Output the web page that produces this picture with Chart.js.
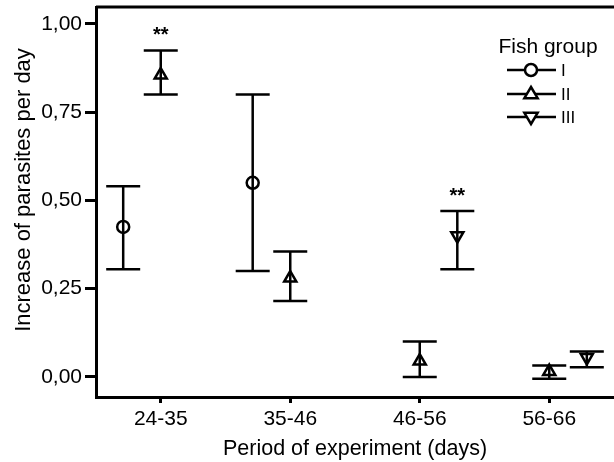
<!DOCTYPE html>
<html>
<head>
<meta charset="utf-8">
<script src="https://cdn.jsdelivr.net/npm/chart.js@4.4.1/dist/chart.umd.min.js"></script>
<style>
  html, body { margin: 0; padding: 0; background: #fff; }
  #wrap { width: 614px; height: 462px; }
</style>
</head>
<body>
<div id="wrap"><canvas id="chart"></canvas></div>
<script>
// Data
const periods = ['24-35', '35-46', '46-56', '56-66'];
const yTicks = [0, 0.25, 0.5, 0.75, 1];

const meanI  = [0.425, 0.55, null, null];
const lowI   = [0.305, 0.30, null, null];
const highI  = [0.54, 0.80, null, null];

const meanII = [0.855, 0.28, 0.045, 0.015];
const lowII  = [0.80, 0.215, 0.0, -0.005];
const highII = [0.925, 0.355, 0.10, 0.032];

const meanIII = [null, null, 0.40, 0.055];
const lowIII  = [null, null, 0.305, 0.027];
const highIII = [null, null, 0.47, 0.072];

const starsII  = ['**', '', '', ''];
const starsIII = ['', '', '**', ''];

const FONT = "'Liberation Sans', Arial, sans-serif";
Chart.defaults.font.family = FONT;
Chart.defaults.color = '#000';

function toPoints(means, lows, highs, stars, offset) {
    const pts = [];
    means.forEach((m, i) => {
        if (m === null) return;
        pts.push({ x: i + 1 + offset, y: m, low: lows[i], high: highs[i], star: stars ? stars[i] : '' });
    });
    return pts;
}

const groups = [
    { label: 'I', data: toPoints(meanI, lowI, highI, null, -0.29), pointStyle: 'circle', rotation: 0, radius: 6 },
    { label: 'II', data: toPoints(meanII, lowII, highII, starsII, 0), pointStyle: 'triangle', rotation: 0, radius: 7 },
    { label: 'III', data: toPoints(meanIII, lowIII, highIII, starsIII, 0.29), pointStyle: 'triangle', rotation: 180, radius: 7 }
];

// small marker for the legend
function marker(ctx, style, rotation, r, x, y) {
    ctx.beginPath();
    if (style === 'circle') {
        ctx.arc(x, y, r, 0, Math.PI * 2);
    } else {
        const s = rotation ? -1 : 1;
        ctx.moveTo(x, y - s * r);
        ctx.lineTo(x + r * 0.95, y + s * r * 0.6);
        ctx.lineTo(x - r * 0.95, y + s * r * 0.6);
        ctx.closePath();
    }
    ctx.fillStyle = '#fff';
    ctx.fill();
    ctx.stroke();
}

// Error bars, stars, top frame, y title and legend
const extrasPlugin = {
    id: 'extras',
    afterDatasetsDraw(chart) {
        const ctx = chart.ctx;
        const ys = chart.scales.y;
        const area = chart.chartArea;
        ctx.save();
        ctx.strokeStyle = '#000';
        ctx.lineWidth = 2.5;
        chart.data.datasets.forEach((ds, di) => {
            const meta = chart.getDatasetMeta(di);
            ds.data.forEach((p, i) => {
                const x = meta.data[i].x;
                const yl = ys.getPixelForValue(p.low);
                const yh = ys.getPixelForValue(p.high);
                ctx.beginPath();
                ctx.moveTo(x, yl); ctx.lineTo(x, yh);
                ctx.moveTo(x - 17, yl); ctx.lineTo(x + 17, yl);
                ctx.moveTo(x - 17, yh); ctx.lineTo(x + 17, yh);
                ctx.stroke();
                if (p.star) {
                    ctx.fillStyle = '#000';
                    ctx.font = 'bold 20px ' + FONT;
                    ctx.textAlign = 'center';
                    ctx.textBaseline = 'middle';
                    ctx.fillText(p.star, x, yh - 15);
                }
            });
        });

        // top frame line
        ctx.lineWidth = 3;
        ctx.beginPath();
        ctx.moveTo(area.left, area.top);
        ctx.lineTo(chart.width, area.top);
        ctx.stroke();

        // y axis title
        ctx.save();
        ctx.translate(24, 190);
        ctx.rotate(-Math.PI / 2);
        ctx.fillStyle = '#000';
        ctx.font = '22px ' + FONT;
        ctx.textAlign = 'center';
        ctx.textBaseline = 'middle';
        ctx.fillText('Increase of parasites per day', 0, 0);
        ctx.restore();

        // legend
        ctx.fillStyle = '#000';
        ctx.font = '21px ' + FONT;
        ctx.textAlign = 'center';
        ctx.textBaseline = 'middle';
        ctx.fillText('Fish group', 548, 47);
        const rows = [70, 94, 117];
        chart.data.datasets.forEach((ds, di) => {
            const y = rows[di];
            ctx.lineWidth = 2.5;
            ctx.beginPath();
            ctx.moveTo(507, y); ctx.lineTo(556, y);
            ctx.stroke();
            marker(ctx, ds.pointStyle, ds.rotation, ds.pointRadius, 531, y);
            ctx.fillStyle = '#000';
            ctx.font = '17px ' + FONT;
            ctx.textAlign = 'left';
            ctx.fillText(ds.label, 561, y + 1);
        });
        ctx.restore();
    }
};

new Chart(document.getElementById('chart'), {
    type: 'scatter',
    data: {
        datasets: groups.map(g => ({
            label: g.label,
            data: g.data,
            pointStyle: g.pointStyle,
            rotation: g.rotation,
            pointRadius: g.radius,
            pointBackgroundColor: '#fff',
            pointBorderColor: '#000',
            pointBorderWidth: 2.5,
            showLine: false
        }))
    },
    options: {
        responsive: true,
        maintainAspectRatio: false,
        animation: false,
        events: [],
        layout: { autoPadding: false, padding: { top: 7, right: 0, left: 0, bottom: 0 } },
        plugins: { legend: { display: false }, tooltip: { enabled: false } },
        scales: {
            x: {
                type: 'linear',
                min: 0.5,
                max: 4.5,
                afterBuildTicks: s => { s.ticks = periods.map((p, i) => ({ value: i + 1 })); },
                afterFit: s => { s.height = 65; s.paddingLeft = 0; s.paddingRight = 0; },
                border: { color: '#000', width: 3 },
                grid: { drawOnChartArea: false, drawTicks: true, tickLength: 6, tickWidth: 3, tickColor: '#000' },
                ticks: {
                    padding: 4,
                    maxRotation: 0,
                    font: { size: 21 },
                    callback: v => periods[Math.round(v) - 1]
                },
                title: { display: true, text: 'Period of experiment (days)', font: { size: 21.5 }, padding: 0 }
            },
            y: {
                min: -0.057,
                max: 1.048,
                afterBuildTicks: s => { s.ticks = yTicks.map(v => ({ value: v })); },
                afterFit: s => { s.width = 96; s.paddingTop = 0; s.paddingBottom = 0; },
                border: { color: '#000', width: 3 },
                grid: { drawOnChartArea: false, drawTicks: true, tickLength: 11, tickWidth: 3, tickColor: '#000' },
                ticks: {
                    padding: 3,
                    font: { size: 21 },
                    callback: v => v.toFixed(2).replace('.', ',')
                }
            }
        }
    },
    plugins: [extrasPlugin]
});
</script>
</body>
</html>
